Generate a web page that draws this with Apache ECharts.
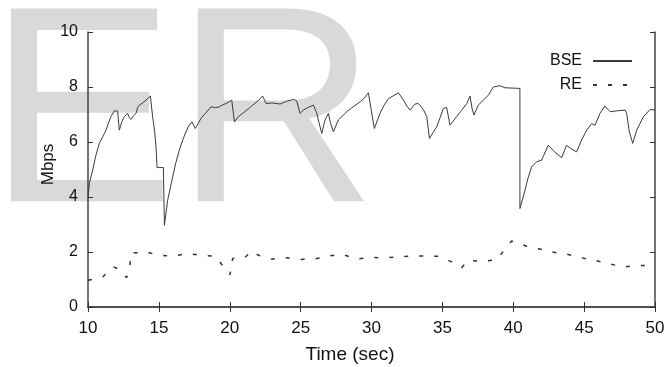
<!DOCTYPE html>
<html>
<head>
<meta charset="utf-8">
<script src="https://cdn.jsdelivr.net/npm/echarts@6/dist/echarts.min.js"></script>
<style>
html,body{margin:0;padding:0;background:#fff;}
#chart{width:667px;height:367px;}
</style>
</head>
<body>
<div id="chart"></div>
<script>
var bseTime = [10.0,10.1,10.33,10.55,10.8,11.05,11.27,11.45,11.62,11.86,11.95,12.09,12.21,12.4,12.56,12.8,12.9,13.03,13.2,13.39,13.5,13.62,13.85,14.09,14.25,14.4,14.56,14.7,14.8,14.87,15.32,15.39,15.62,15.97,16.2,16.44,16.7,16.91,17.1,17.34,17.57,17.8,17.97,18.3,18.68,19.0,19.27,19.5,19.74,20.14,20.33,20.6,20.91,21.3,21.62,22.0,22.32,22.45,22.56,23.0,23.55,24.0,24.49,24.72,24.96,25.19,25.5,25.9,26.13,26.3,26.49,26.72,26.96,27.1,27.31,27.66,28.25,28.7,29.2,29.5,29.78,30.0,30.2,30.6,30.9,31.2,31.6,31.9,32.25,32.5,32.72,33.07,33.31,33.66,33.9,34.09,34.35,34.6,34.85,35.07,35.3,35.54,36.0,36.35,36.72,36.95,37.1,37.23,37.53,37.89,38.24,38.59,39.06,39.42,40.47,40.47,40.59,40.83,41.05,41.3,41.65,42.0,42.47,42.9,43.41,43.76,44.1,44.47,44.82,45.18,45.53,45.77,46.12,46.47,46.83,47.42,47.89,48.0,48.19,48.43,48.71,49.18,49.65,50.0];
var bseRate = [4.0,4.5,4.98,5.5,5.95,6.2,6.43,6.7,6.92,7.14,7.08,7.12,6.43,6.75,6.92,7.04,6.9,6.82,6.95,7.04,7.25,7.34,7.42,7.52,7.6,7.67,6.92,6.4,5.82,5.07,5.07,2.97,3.88,4.73,5.25,5.7,6.1,6.37,6.58,6.73,6.49,6.7,6.86,7.05,7.28,7.25,7.28,7.35,7.4,7.52,6.73,6.92,7.04,7.2,7.34,7.5,7.67,7.6,7.4,7.42,7.38,7.48,7.55,7.5,7.04,7.16,7.25,7.34,7.06,6.7,6.31,6.8,7.04,6.7,6.37,6.8,7.1,7.28,7.46,7.6,7.79,7.1,6.49,7.04,7.35,7.58,7.7,7.79,7.53,7.3,7.16,7.38,7.4,7.18,6.92,6.13,6.35,6.55,6.9,7.22,7.26,6.61,6.92,7.15,7.4,7.67,7.2,6.98,7.34,7.52,7.7,8.0,8.05,7.97,7.95,3.58,3.52,4.25,4.7,5.1,5.28,5.34,5.88,5.65,5.43,5.88,5.75,5.64,6.07,6.43,6.67,6.61,7.04,7.31,7.1,7.14,7.16,7.04,6.37,5.95,6.43,6.92,7.18,7.16];
var reTime = [10.0,11.03,11.79,12.07,12.73,12.96,13.03,13.79,14.14,14.96,16.02,16.96,18.02,18.96,19.55,20.02,20.2,21.07,21.55,22.02,22.96,24.02,24.96,26.02,26.96,27.9,28.95,29.9,30.95,31.9,32.83,33.89,34.83,35.66,36.36,36.83,37.77,38.83,39.54,39.89,40.48,40.95,41.77,42.71,43.77,44.71,45.89,46.83,47.77,48.71,49.65,50.0];
var reRate = [0.97,1.09,1.46,1.40,1.07,1.52,1.97,1.97,2.0,1.88,1.85,1.94,1.88,1.85,1.48,1.18,1.76,1.8,2.04,1.88,1.74,1.79,1.73,1.75,1.85,1.92,1.74,1.8,1.79,1.82,1.86,1.85,1.84,1.64,1.43,1.7,1.66,1.72,2.18,2.4,2.3,2.21,2.12,2.0,1.92,1.8,1.68,1.56,1.46,1.5,1.52,1.52];
var xTicks = {min: 10, max: 50, interval: 5};
var yTicks = {min: 0, max: 10, interval: 2};
var seriesNames = ['BSE', 'RE'];
var watermark = 'ER';
var xTitle = 'Time (sec)';
var yTitle = 'Mbps';

function pairs(xs, ys){ return xs.map(function(x,i){ return [x, ys[i]]; }); }

var font = '"Liberation Sans", Arial, Helvetica, sans-serif';
var ink = '#333';
var chart = echarts.init(document.getElementById('chart'), null, {renderer: 'canvas'});
var tickCommon = {show: true, inside: true, length: 5, lineStyle: {color: ink, width: 1}};
var lineCommon = {show: true, lineStyle: {color: '#444', width: 1.5}};
chart.setOption({
  backgroundColor: 'transparent',
  animation: false,
  textStyle: {fontFamily: font},
  graphic: [{
    type: 'text', z: -10, zlevel: 0, silent: true,
    left: -12, top: -16,
    style: {text: watermark, font: '280px ' + font, fill: '#d9d9d9'}
  }],
  grid: {left: 88, right: 12, top: 32, bottom: 60, show: false, outerBoundsMode: 'none', containLabel: false},
  legend: {
    data: seriesNames, orient: 'vertical', right: 29, top: 48, align: 'right',
    itemWidth: 39, itemHeight: 16, itemGap: 8,
    itemStyle: {opacity: 0, color: 'rgba(0,0,0,0)', borderWidth: 0},
    textStyle: {fontFamily: font, fontSize: 16, color: '#111', padding: [0, 6, 0, 0]}
  },
  xAxis: [{
    type: 'value', position: 'bottom', min: xTicks.min, max: xTicks.max, interval: xTicks.interval,
    axisLine: lineCommon, axisTick: tickCommon, splitLine: {show: false},
    axisLabel: {fontSize: 17, color: '#111', margin: 13, fontFamily: font},
    name: xTitle, nameLocation: 'middle', nameGap: 38, nameMoveOverlap: false,
    nameTextStyle: {fontSize: 19, color: '#111', fontFamily: font, padding: [0, 43, 0, 0]}
  }, {
    type: 'value', position: 'top', min: xTicks.min, max: xTicks.max, interval: xTicks.interval,
    axisLine: lineCommon, axisTick: tickCommon, splitLine: {show: false}, axisLabel: {show: false}
  }],
  yAxis: [{
    type: 'value', position: 'left', min: yTicks.min, max: yTicks.max, interval: yTicks.interval,
    axisLine: lineCommon, axisTick: tickCommon, splitLine: {show: false},
    axisLabel: {fontSize: 16, color: '#111', margin: 10, fontFamily: font},
    name: yTitle, nameLocation: 'middle', nameGap: 31, nameMoveOverlap: false,
    nameTextStyle: {fontSize: 17, color: '#111', fontFamily: font, padding: [0, 0, 0, 10]}
  }, {
    type: 'value', position: 'right', min: yTicks.min, max: yTicks.max, interval: yTicks.interval,
    axisLine: lineCommon, axisTick: tickCommon, splitLine: {show: false}, axisLabel: {show: false}
  }],
  series: [{
    name: seriesNames[0], type: 'line', data: pairs(bseTime, bseRate),
    showSymbol: false, symbol: 'none', z: 5,
    lineStyle: {color: '#3a3a3a', width: 1}, itemStyle: {color: '#3a3a3a'}
  }, {
    name: seriesNames[1], type: 'line', data: pairs(reTime, reRate),
    showSymbol: false, symbol: 'none', z: 5,
    lineStyle: {color: '#333', width: 1.5, type: [4, 11]}, itemStyle: {color: '#333'}
  }]
});
</script>
</body>
</html>
